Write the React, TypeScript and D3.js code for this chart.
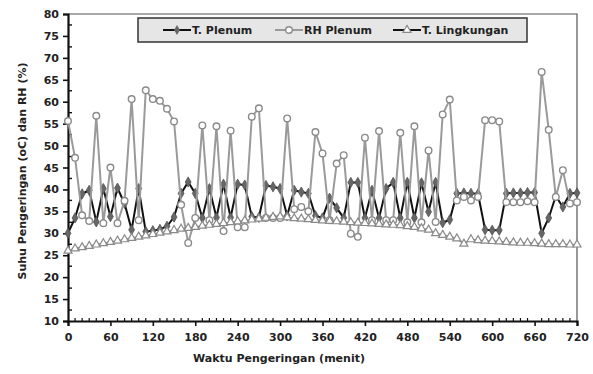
import React, { useEffect, useRef } from "react";
import * as d3 from "d3";

// waktu (menit), tiap 10 menit
const times = d3.range(0, 730, 10);

const tPlenum = [
  30.0, 33.5, 39.0, 39.8, 32.6, 40.2, 33.8, 40.3, 36.8, 30.8, 40.2, 30.4, 30.6,
  30.9, 31.6, 33.7, 39.1, 41.7, 39.1, 33.5, 40.2, 33.6, 41.2, 33.6, 41.2, 41.0,
  33.8, 33.6, 40.9, 40.6, 40.2, 34.0, 39.8, 39.4, 39.1, 34.0, 33.5, 38.0, 35.8,
  33.5, 41.6, 41.6, 33.5, 39.8, 33.5, 40.2, 41.6, 33.5, 41.6, 33.5, 41.5, 34.9,
  41.6, 32.4, 33.1, 39.1, 39.2, 39.1, 39.0, 30.8, 30.7, 30.7, 39.1, 39.2, 39.2,
  39.3, 39.3, 30.0, 33.5, 38.5, 36.0, 39.1, 39.2,
];

const rhPlenum = [
  55.6, 47.2, 34.1, 32.8, 56.8, 32.3, 45.0, 32.3, 37.4, 60.6, 33.0, 62.6, 60.6,
  60.2, 58.4, 55.5, 36.5, 27.8, 33.5, 54.6, 33.0, 54.4, 30.5, 53.4, 31.4, 31.4,
  56.6, 58.5, 33.5, 33.5, 33.5, 56.2, 35.5, 36.0, 35.0, 53.1, 48.2, 33.0, 45.9,
  47.8, 29.9, 29.2, 51.8, 33.0, 53.3, 33.0, 33.0, 52.9, 32.5, 54.4, 32.5, 48.9,
  32.6, 57.1, 60.5, 37.5, 38.3, 37.5, 38.3, 55.8, 55.8, 55.5, 37.1, 37.1, 37.1,
  37.3, 37.1, 66.8, 53.6, 38.3, 44.4, 36.8, 37.1,
];

const tLingkungan = [
  26.0, 26.5, 26.8, 27.1, 27.4, 27.7, 28.0, 28.3, 28.6, 28.9, 29.2, 29.5, 29.8,
  30.1, 30.4, 30.7, 31.0, 31.2, 31.4, 31.7, 31.9, 32.1, 32.3, 32.5, 32.7, 32.9,
  33.1, 33.3, 33.5, 33.7, 33.8, 33.6, 33.4, 33.3, 33.2, 33.0, 32.9, 32.8, 32.7,
  32.6, 32.5, 32.4, 32.3, 32.2, 32.1, 32.0, 31.9, 31.8, 31.6, 31.4, 31.1, 30.8,
  30.0, 29.6, 29.2, 28.8, 27.6, 28.6, 28.4, 28.3, 28.2, 28.1, 28.0, 27.9, 27.8,
  27.8, 27.7, 27.6, 27.5, 27.5, 27.5, 27.4, 27.4,
];

const xTicks = d3.range(0, 721, 60);
const yTicks = d3.range(10, 81, 5);
const legendLabels = ["T. Plenum", "RH Plenum", "T. Lingkungan"];

const App = () => {
  const svgRef = useRef<SVGSVGElement>(null);

  const width = 593;
  const height = 374;
  const left = 68;
  const right = 577;
  const top = 14;
  const bottom = 321;
  const font = "'DejaVu Sans', Verdana, sans-serif";

  useEffect(() => {
    const svg = d3.select(svgRef.current);
    svg.selectAll("*").remove();

    const x = d3.scaleLinear().domain([0, 720]).range([left, right]);
    const y = d3.scaleLinear().domain([10, 80]).range([bottom, top]);

    // frame top/right
    svg
      .append("path")
      .attr("d", `M${left},${top}H${right}V${bottom}`)
      .attr("fill", "none")
      .attr("stroke", "#555")
      .attr("stroke-width", 1.2);

    // y axis
    const yAxis = svg.append("g").attr("transform", `translate(${left},0)`);
    yAxis
      .call(d3.axisLeft(y).tickValues(yTicks).tickSize(5).tickPadding(4))
      .call((g) => g.select(".domain").attr("stroke", "#111").attr("stroke-width", 2.2))
      .call((g) => g.selectAll(".tick line").attr("stroke", "#111").attr("stroke-width", 1.6))
      .selectAll("text")
      .style("font-family", font)
      .style("font-weight", "bold")
      .style("font-size", "11px")
      .style("fill", "#222");
    yAxis
      .selectAll(".minor")
      .data(d3.range(12.5, 80, 5))
      .enter()
      .append("line")
      .attr("x1", 0)
      .attr("x2", 4)
      .attr("y1", (d) => y(d))
      .attr("y2", (d) => y(d))
      .attr("stroke", "#111")
      .attr("stroke-width", 1.4);

    // x axis
    const xAxis = svg.append("g").attr("transform", `translate(0,${bottom})`);
    xAxis
      .call(d3.axisBottom(x).tickValues(xTicks).tickSize(5).tickPadding(7))
      .call((g) => g.select(".domain").attr("stroke", "#111").attr("stroke-width", 2.2))
      .call((g) => g.selectAll(".tick line").attr("stroke", "#111").attr("stroke-width", 1.6))
      .selectAll("text")
      .style("font-family", font)
      .style("font-weight", "bold")
      .style("font-size", "11px")
      .style("fill", "#222");
    xAxis
      .selectAll(".minor")
      .data(times.filter((t) => t % 60 !== 0))
      .enter()
      .append("line")
      .attr("x1", (d) => x(d))
      .attr("x2", (d) => x(d))
      .attr("y1", 0)
      .attr("y2", -3)
      .attr("stroke", "#111")
      .attr("stroke-width", 1.2);

    const line = d3
      .line<number>()
      .x((_, i) => x(times[i]))
      .y((d) => y(d));

    // T. Plenum
    svg
      .append("path")
      .datum(tPlenum)
      .attr("fill", "none")
      .attr("stroke", "#111")
      .attr("stroke-width", 2)
      .attr("d", line);
    svg
      .append("g")
      .selectAll("path")
      .data(tPlenum)
      .enter()
      .append("path")
      .attr("d", d3.symbol(d3.symbolDiamond, 30))
      .attr("transform", (d, i) => `translate(${x(times[i])},${y(d)})`)
      .attr("fill", "#666")
      .attr("stroke", "#555")
      .attr("stroke-width", 0.8);

    // RH Plenum
    svg
      .append("path")
      .datum(rhPlenum)
      .attr("fill", "none")
      .attr("stroke", "#9a9a9a")
      .attr("stroke-width", 2)
      .attr("d", line);
    svg
      .append("g")
      .selectAll("circle")
      .data(rhPlenum)
      .enter()
      .append("circle")
      .attr("cx", (_, i) => x(times[i]))
      .attr("cy", (d) => y(d))
      .attr("r", 3.3)
      .attr("fill", "#fff")
      .attr("stroke", "#8a8a8a")
      .attr("stroke-width", 1.4);

    // T. Lingkungan
    svg
      .append("path")
      .datum(tLingkungan)
      .attr("fill", "none")
      .attr("stroke", "#8a8a8a")
      .attr("stroke-width", 1.6)
      .attr("d", line);
    svg
      .append("g")
      .selectAll("path")
      .data(tLingkungan)
      .enter()
      .append("path")
      .attr("d", d3.symbol(d3.symbolTriangle, 28))
      .attr("transform", (d, i) => `translate(${x(times[i])},${y(d)})`)
      .attr("fill", "#fff")
      .attr("stroke", "#8a8a8a")
      .attr("stroke-width", 1.2);

    // legend
    const lg = svg.append("g");
    lg.append("rect")
      .attr("x", 138)
      .attr("y", 18)
      .attr("width", 389)
      .attr("height", 24)
      .attr("fill", "#e6e6e6")
      .attr("stroke", "#333")
      .attr("stroke-width", 1.5);
    const lx = [163, 275, 393];
    const ly = 30;
    legendLabels.forEach((label, i) => {
      const g = lg.append("g").attr("transform", `translate(${lx[i]},${ly})`);
      g.append("line")
        .attr("x1", 0)
        .attr("x2", 28)
        .attr("stroke", i === 1 ? "#9a9a9a" : "#111")
        .attr("stroke-width", 2);
      if (i === 0) {
        g.append("path")
          .attr("d", d3.symbol(d3.symbolDiamond, 30))
          .attr("transform", "translate(14,0)")
          .attr("fill", "#666");
      } else if (i === 1) {
        g.append("circle")
          .attr("cx", 14)
          .attr("r", 3.3)
          .attr("fill", "#fff")
          .attr("stroke", "#8a8a8a")
          .attr("stroke-width", 1.4);
      } else {
        g.append("path")
          .attr("d", d3.symbol(d3.symbolTriangle, 28))
          .attr("transform", "translate(14,0)")
          .attr("fill", "#fff")
          .attr("stroke", "#8a8a8a")
          .attr("stroke-width", 1.2);
      }
      g.append("text")
        .attr("x", 29)
        .attr("dy", "0.35em")
        .text(label)
        .style("font-family", font)
        .style("font-weight", "bold")
        .style("font-size", "11px")
        .style("fill", "#222");
    });

    // axis titles
    svg
      .append("text")
      .attr("x", 279)
      .attr("y", 362)
      .attr("text-anchor", "middle")
      .text("Waktu Pengeringan (menit)")
      .style("font-family", font)
      .style("font-weight", "bold")
      .style("font-size", "11px")
      .style("fill", "#222");
    svg
      .append("text")
      .attr("transform", `translate(26,171) rotate(-90)`)
      .attr("text-anchor", "middle")
      .text("Suhu Pengeringan (oC) dan RH (%)")
      .style("font-family", font)
      .style("font-weight", "bold")
      .style("font-size", "11px")
      .style("fill", "#222");
  }, []);

  return (
    <svg
      ref={svgRef}
      width={width}
      height={height}
      style={{ position: "absolute", left: 0, top: 0, background: "#fff" }}
    ></svg>
  );
};

export default App;
